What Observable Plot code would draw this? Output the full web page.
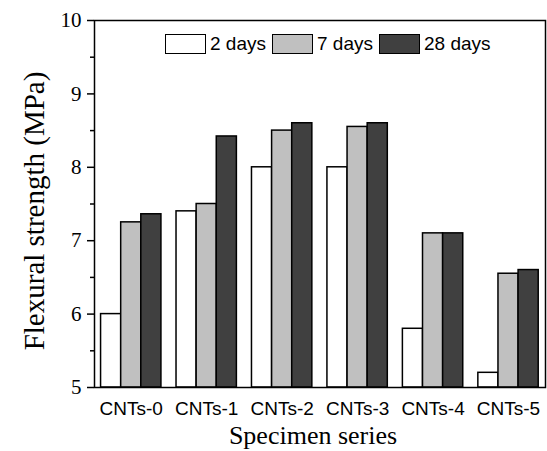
<!DOCTYPE html>
<html>
<head>
<meta charset="utf-8">
<script src="https://cdn.jsdelivr.net/npm/d3@7"></script>
<script src="https://cdn.jsdelivr.net/npm/@observablehq/plot@0.6"></script>
<style>
  html, body { margin: 0; padding: 0; background: #fff; }
  #wrap { position: relative; width: 547px; height: 451px; }
  #legend { position: absolute; left: 165px; top: 33px; display: flex; align-items: center;
            font-family: "Liberation Sans", Arial, sans-serif; font-size: 19px; color: #000; }
  .sw { width: 39px; height: 18px; border: 1.5px solid #000; margin-right: 4px; }
  .lab { margin-right: 6px; line-height: 21px; }
</style>
</head>
<body>
<div id="wrap"></div>
<script>
const categories = ["CNTs-0", "CNTs-1", "CNTs-2", "CNTs-3", "CNTs-4", "CNTs-5"];
const series = ["2 days", "7 days", "28 days"];
const days2 = [6.0, 7.4, 8.0, 8.0, 5.8, 5.2];
const days7 = [7.25, 7.5, 8.5, 8.55, 7.1, 6.55];
const days28 = [7.36, 8.42, 8.6, 8.6, 7.1, 6.6];
const seriesColors = ["#ffffff", "#c0c0c0", "#404040"];
const yTicks = [5, 6, 7, 8, 9, 10];
const yMinorTicks = [5.5, 6.5, 7.5, 8.5, 9.5];
const yDomain = [5, 10];

const values = [days2, days7, days28];
const groupWidth = 0.8;
const barW = groupWidth / series.length;
const rows = [];
categories.forEach((c, i) => {
  series.forEach((s, k) => {
    rows.push({cat: c, i, series: s, k, value: values[k][i]});
  });
});

const chart = Plot.plot({
  width: 547,
  height: 451,
  marginLeft: 94,
  marginRight: 2,
  marginTop: 20,
  marginBottom: 64,
  style: {background: "#fff", color: "#000"},
  x: {domain: [-0.487, 5.49], axis: null},
  y: {domain: yDomain, axis: null},
  color: {domain: series, range: seriesColors},
  marks: [
    Plot.rectY(rows, {
      x1: d => d.i - groupWidth / 2 + d.k * barW,
      x2: d => d.i - groupWidth / 2 + (d.k + 1) * barW,
      y1: yDomain[0],
      y2: "value",
      fill: "series",
      stroke: "#000",
      strokeWidth: 1.5
    }),
    Plot.axisX({ticks: d3.range(categories.length), tickFormat: i => categories[i],
      tickSize: 0, tickPadding: 14, label: null,
      fontSize: 19, fontFamily: "Liberation Sans, Arial, sans-serif"}),
    Plot.axisY({ticks: yTicks, tickFormat: d => String(d), tickSize: 7, tickPadding: 6, label: null, strokeWidth: 1.5,
      fontSize: 21, fontFamily: "Liberation Serif, Times New Roman, serif"}),
    Plot.axisY({ticks: yMinorTicks, tickSize: 4, tickFormat: () => "", label: null, strokeWidth: 1.5}),
    Plot.frame({stroke: "#000", strokeWidth: 1.5}),
    Plot.text(["Flexural strength (MPa)"], {frameAnchor: "left", rotate: -90, lineAnchor: "top", textAnchor: "middle",
      dx: -71, dy: 7, fontSize: 29, fontFamily: "Liberation Serif, Times New Roman, serif", fill: "#000"}),
    Plot.text(["Specimen series"], {frameAnchor: "bottom", lineAnchor: "middle", textAnchor: "middle",
      dx: -7, dy: 48, fontSize: 26, fontFamily: "Liberation Serif, Times New Roman, serif", fill: "#000"})
  ]
});

const wrap = document.getElementById("wrap");
wrap.appendChild(chart);

const color = chart.scale("color");
const legend = d3.select(wrap).append("div").attr("id", "legend");
color.domain.forEach((s, k) => {
  legend.append("div").attr("class", "sw").style("background", color.range[k]);
  legend.append("div").attr("class", "lab").text(s);
});
</script>
</body>
</html>
